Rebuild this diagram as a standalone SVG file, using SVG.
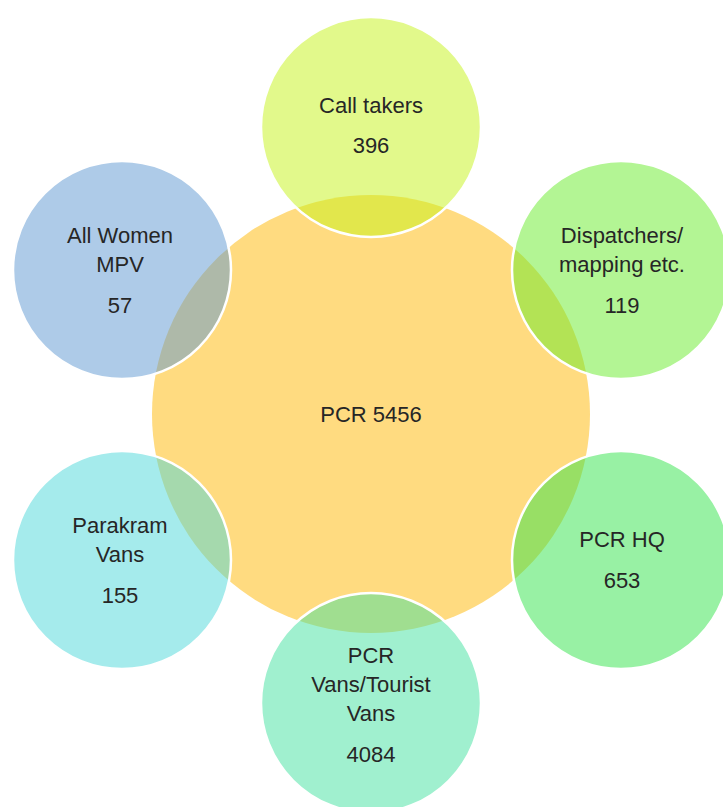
<svg xmlns="http://www.w3.org/2000/svg" width="723" height="807" viewBox="0 0 723 807">
<style>
.center{fill:#FFDB80;}
.outer{stroke:#FFFFFF;stroke-width:2.5;fill-opacity:0.5;}
text{font-family:"Liberation Sans",Arial,sans-serif;font-size:22px;fill:#262626;text-anchor:middle;}
</style>
<rect width="723" height="807" fill="#FFFFFF"/>
<g id="pcr">
<circle class="center" cx="371" cy="414" r="219"/>
<text x="371" y="422">PCR 5456</text>
</g>
<g id="call-takers">
<circle class="outer" cx="371" cy="127" r="110" fill="#C5F317"/>
<text x="371" y="113">Call takers</text>
<text x="371" y="153">396</text>
</g>
<g id="dispatchers">
<circle class="outer" cx="621" cy="270" r="109" fill="#67EB29"/>
<text x="622" y="243">Dispatchers/</text>
<text x="622" y="272">mapping etc.</text>
<text x="622" y="313">119</text>
</g>
<g id="pcr-hq">
<circle class="outer" cx="621" cy="560" r="109" fill="#31E349"/>
<text x="622" y="547">PCR HQ</text>
<text x="622" y="588">653</text>
</g>
<g id="pcr-vans">
<circle class="outer" cx="371" cy="703" r="110" fill="#41E19F"/>
<text x="371" y="663">PCR</text>
<text x="371" y="692">Vans/Tourist</text>
<text x="371" y="721">Vans</text>
<text x="371" y="762">4084</text>
</g>
<g id="parakram">
<circle class="outer" cx="122" cy="560" r="109" fill="#4BD7D9"/>
<text x="120" y="533">Parakram</text>
<text x="120" y="562">Vans</text>
<text x="120" y="603">155</text>
</g>
<g id="all-women">
<circle class="outer" cx="122" cy="270" r="109" fill="#5D97D1"/>
<text x="120" y="243">All Women</text>
<text x="120" y="272">MPV</text>
<text x="120" y="313">57</text>
</g>
<g id="connectors"></g>
</svg>
